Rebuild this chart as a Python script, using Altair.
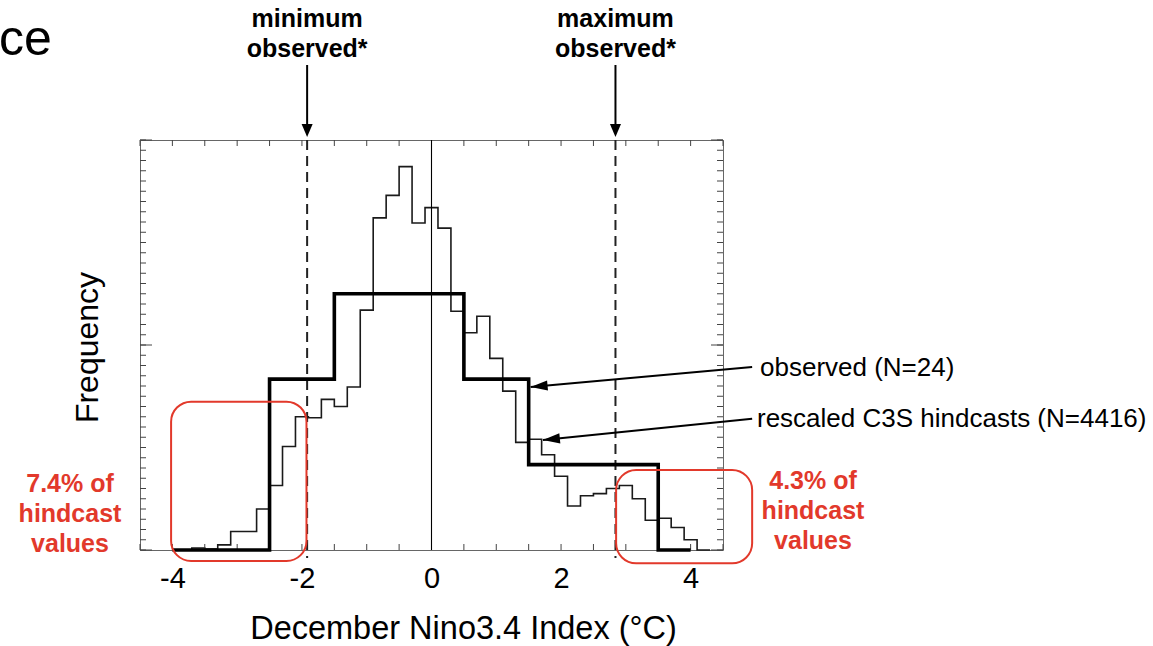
import altair as alt
import pandas as pd

# ---- data -------------------------------------------------------------
# rescaled C3S hindcasts: probability density in 0.2 degC bins
hind_first_edge = -3.9
hind_bin_width = 0.2
hind_density = [
    0.000, 0.002, 0.001, 0.005, 0.018, 0.018, 0.040, 0.063, 0.101, 0.130,
    0.129, 0.147, 0.140, 0.159, 0.234, 0.324, 0.346, 0.374, 0.319, 0.334,
    0.314, 0.233, 0.212, 0.228, 0.187, 0.155, 0.105, 0.108, 0.093, 0.072,
    0.043, 0.053, 0.055, 0.060, 0.063, 0.050, 0.029, 0.031, 0.022, 0.010,
    0.000,
]

# observed December Nino3.4 values: counts in 1 degC bins
obs_edges = [-4.0, -2.5, -1.5, -0.5, 0.5, 1.5, 2.5, 3.5, 4.0]
obs_counts = [0, 4, 6, 6, 4, 2, 2, 0]
obs_n = 24

obs_min = -1.92
obs_max = 2.84

x_label_values = [-4, -2, 0, 2, 4]
x_tick_values = [-4.5, -4.0, -3.5, -3.0, -2.5, -2.0, -1.5, -1.0, -0.5, 0.0,
                 0.5, 1.0, 1.5, 2.0, 2.5, 3.0, 3.5, 4.0, 4.5]
y_tick_values = [round(0.01 * i, 2) for i in range(41)]
y_major_values = [0.0, 0.2, 0.4]

# ---- tables -----------------------------------------------------------
hind_rows = [
    {"x": round(hind_first_edge + i * hind_bin_width, 2), "d": v}
    for i, v in enumerate(hind_density)
]
hind_rows.append({"x": round(hind_first_edge + len(hind_density) * hind_bin_width, 2), "d": 0.0})
hind_df = pd.DataFrame(hind_rows)

obs_rows = [{"x": e, "d": c / obs_n} for e, c in zip(obs_edges[:-1], obs_counts)]
obs_rows.append({"x": obs_edges[-1], "d": 0.0})
obs_df = pd.DataFrame(obs_rows)

W, H = 583, 410
FONT = "Liberation Sans"
RED = "#e2392b"

xs = alt.Scale(domain=[-4.5, 4.5], nice=False, zero=False)
ys = alt.Scale(domain=[0, 0.4], nice=False, zero=False)

x_axis = alt.Axis(
    values=x_label_values, labelExpr="'' + datum.value", ticks=False, tickSize=0,
    domain=False, grid=False, labelFontSize=29, labelColor="black", labelPadding=14,
    labelFont=FONT, title="December Nino3.4 Index (°C)", titleFont=FONT,
    titleFontSize=32.5, titleFontWeight="normal", titleColor="black",
    titleX=323, titleY=88, titleBaseline="alphabetic", titleAlign="center",
)
y_axis = alt.Axis(
    labels=False, ticks=False, domain=False, grid=False, title="Frequency",
    titleFont=FONT, titleFontSize=32, titleFontWeight="normal", titleColor="black",
    titleAngle=270, titleX=-43, titleY=207, titleBaseline="alphabetic",
    titleAlign="center",
)


def X(field):
    return alt.X(field, scale=xs, axis=x_axis)


def Y(field):
    return alt.Y(field, scale=ys, axis=y_axis)


# ---- histograms -------------------------------------------------------
hind_line = alt.Chart(hind_df).mark_line(
    interpolate="step-after", color="#1a1a1a", strokeWidth=1.6, strokeJoin="miter"
).encode(x=X("x:Q"), y=Y("d:Q"))

obs_line = alt.Chart(obs_df).mark_line(
    interpolate="step-after", color="black", strokeWidth=3.6, strokeJoin="miter"
).encode(x=X("x:Q"), y=Y("d:Q"))

zero_line = alt.Chart(pd.DataFrame({"x": [0.0]})).mark_rule(
    color="black", strokeWidth=1.1
).encode(x=X("x:Q"), y=alt.value(0), y2=alt.value(H))

# ---- inward frame ticks -------------------------------------------------
xt = pd.DataFrame({"v": x_tick_values})
yt = pd.DataFrame({"v": y_tick_values})
ym = pd.DataFrame({"v": y_major_values})
tick_style = dict(color="#444", strokeWidth=1)
ticks_bottom = alt.Chart(xt).mark_rule(**tick_style).encode(
    x=X("v:Q"), y=alt.value(H), y2=alt.value(H - 6))
ticks_top = alt.Chart(xt).mark_rule(**tick_style).encode(
    x=X("v:Q"), y=alt.value(0), y2=alt.value(6))
ticks_left = alt.Chart(yt).mark_rule(**tick_style).encode(
    y=Y("v:Q"), x=alt.value(0), x2=alt.value(6))
ticks_right = alt.Chart(yt).mark_rule(**tick_style).encode(
    y=Y("v:Q"), x=alt.value(W), x2=alt.value(W - 6))
major_left = alt.Chart(ym).mark_rule(**tick_style).encode(
    y=Y("v:Q"), x=alt.value(0), x2=alt.value(12))
major_right = alt.Chart(ym).mark_rule(**tick_style).encode(
    y=Y("v:Q"), x=alt.value(W), x2=alt.value(W - 12))

# ---- observed extremes ------------------------------------------------
ext_df = pd.DataFrame({"x": [obs_min, obs_max],
                       "label": ["minimum\nobserved*", "maximum\nobserved*"]})
ext_lines = alt.Chart(ext_df).mark_rule(
    color="#222", strokeWidth=2, strokeDash=[10, 6]
).encode(x=X("x:Q"), y=alt.value(0), y2=alt.value(H + 8))
ext_shafts = alt.Chart(ext_df).mark_rule(color="black", strokeWidth=2).encode(
    x=X("x:Q"), y=alt.value(-75), y2=alt.value(-12))
ext_heads = alt.Chart(ext_df).mark_point(
    shape="M0,0L-0.85,-2L0.85,-2Z", size=169, filled=True, opacity=1, color="black"
).encode(x=X("x:Q"), y=alt.value(-3))
ext_text = alt.Chart(ext_df).mark_text(
    font=FONT, fontSize=25, fontWeight="bold", color="black", align="center",
    baseline="alphabetic", lineBreak="\n", lineHeight=30
).encode(x=X("x:Q"), y=alt.value(-113), text="label:N")

# ---- tail boxes -------------------------------------------------------
box_df = pd.DataFrame({
    "x0": [-4.02, 2.85], "x1": [-1.93, 4.95],
    "y0": [0.1447, 0.078], "y1": [-0.0107, -0.013],
})
boxes = alt.Chart(box_df).mark_rect(
    cornerRadius=20, fill="white", fillOpacity=0, stroke=RED, strokeWidth=2, clip=False
).encode(x=X("x0:Q"), x2="x1", y=Y("y0:Q"), y2="y1")
red_style = dict(font=FONT, fontSize=25, fontWeight="bold", color=RED, align="center",
                 baseline="alphabetic", lineBreak="\n", lineHeight=30)
left_note = alt.Chart(pd.DataFrame({"t": ["7.4% of\nhindcast\nvalues"]})).mark_text(
    **red_style).encode(x=alt.value(-70), y=alt.value(352), text="t:N")
right_note = alt.Chart(pd.DataFrame({"t": ["4.3% of\nhindcast\nvalues"]})).mark_text(
    **red_style).encode(x=alt.value(673), y=alt.value(349), text="t:N")

# ---- series labels with arrows ------------------------------------------
arrow_df = pd.DataFrame({
    "x0": [4.95, 4.95], "y0": [0.1785, 0.128],
    "x1": [1.53, 1.72], "y1": [0.159, 0.1073],
    "ang": [354.85, 354.3],
})
arrow_shafts = alt.Chart(arrow_df).mark_rule(color="black", strokeWidth=2, clip=False).encode(
    x=X("x0:Q"), y=Y("y0:Q"), x2="x1", y2="y1")
arrow_heads = [
    alt.Chart(arrow_df.iloc[[i]]).mark_point(
        shape="M0,0L2,-0.6L2,0.6Z", size=289, filled=True, opacity=1, color="black",
        angle=float(arrow_df["ang"].iloc[i]), clip=False
    ).encode(x=X("x1:Q"), y=Y("y1:Q"))
    for i in range(len(arrow_df))
]
lab_style = dict(font=FONT, fontSize=26, color="black", align="left", baseline="alphabetic")
obs_label = alt.Chart(pd.DataFrame({"t": [f"observed (N={obs_n})"]})).mark_text(
    **lab_style).encode(x=alt.value(620), y=alt.value(236), text="t:N")
hind_label = alt.Chart(pd.DataFrame({"t": ["rescaled C3S hindcasts (N=4416)"]})).mark_text(
    **lab_style).encode(x=alt.value(617), y=alt.value(287), text="t:N")

corner_text = alt.Chart(pd.DataFrame({"t": ["ce"]})).mark_text(
    font=FONT, fontSize=50, color="black", align="left", baseline="alphabetic"
).encode(x=alt.value(-141), y=alt.value(-85), text="t:N")

chart = alt.layer(
    hind_line, ticks_bottom, ticks_top, ticks_left, ticks_right, major_left, major_right,
    zero_line, ext_lines, obs_line,
    ext_shafts, ext_heads, ext_text,
    boxes, left_note, right_note,
    arrow_shafts, *arrow_heads, obs_label, hind_label, corner_text,
).properties(
    width=W, height=H,
    autosize=alt.AutoSizeParams(type="none"),
    padding={"left": 140, "top": 140, "right": 1153 - 140 - W, "bottom": 646 - 140 - H},
    background="white",
).configure_view(stroke="#666", strokeWidth=1)

chart.save("out.html", embed_options={"renderer": "svg", "actions": False})
